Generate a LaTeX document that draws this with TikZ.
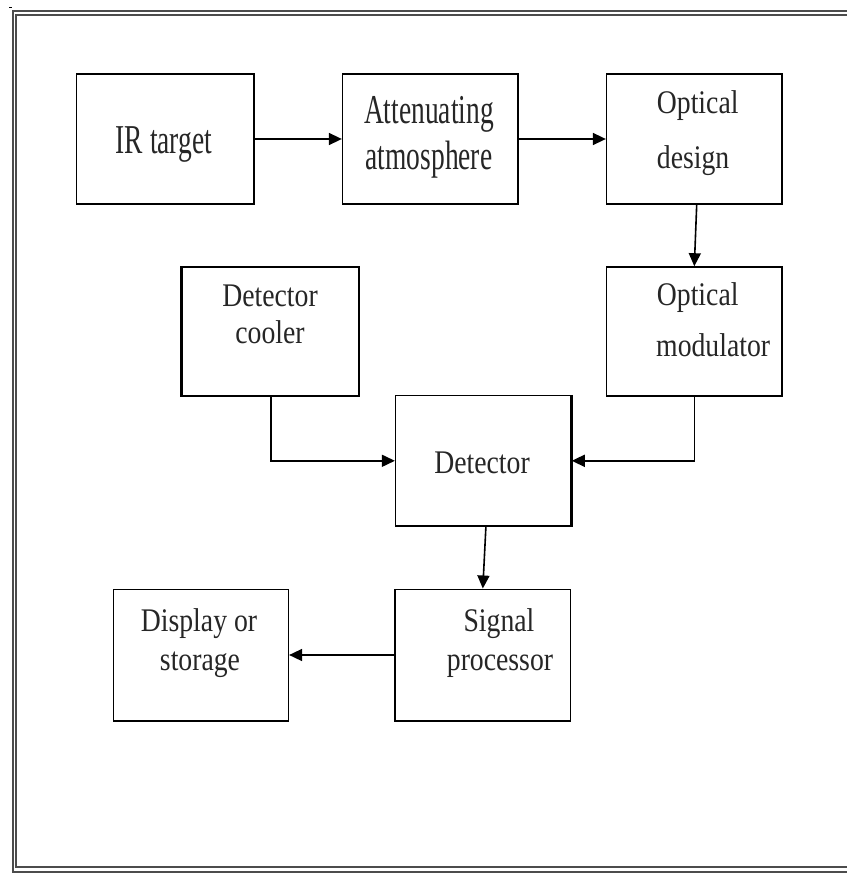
\documentclass[tikz,border=0pt]{standalone}
\usepackage{fontspec}
\setmainfont{Liberation Serif}
\newfontfamily\tallfont[FakeStretch=0.67]{Liberation Serif}
\newfontfamily\normfont[FakeStretch=0.84]{Liberation Serif}
\usetikzlibrary{arrows.meta}
\begin{document}
\begin{tikzpicture}[x=1pt,y=-1pt,
  box/.style={draw=black,line width=1.6pt,rectangle,inner sep=0pt},
  tallt/.style={anchor=base,inner sep=0pt,text=black!85,font=\tallfont\fontsize{41}{41}\selectfont},
  normt/.style={anchor=base,inner sep=0pt,text=black!85,font=\normfont\fontsize{33}{33}\selectfont},
  normtl/.style={anchor=base west,inner sep=0pt,text=black!85,font=\normfont\fontsize{33}{33}\selectfont},
  conn/.style={line width=1.6pt,-{Triangle[length=13pt,width=12pt]}},
  frame/.style={draw=black!70,line width=1.6pt}]
\useasboundingbox (0,0) rectangle (846,874);
% outer double frame
\draw[frame] (850,11) -- (13,11) -- (13,872) -- (850,872);
\draw[frame] (850,15) -- (16,15) -- (16,867) -- (850,867);
\draw[line width=1.2pt] (9,7.5) -- (12,7.5);
% boxes
\node[box,minimum width=177.3pt,minimum height=130pt] (ir) at (165.3,139) {};
\node[box,minimum width=175.3pt,minimum height=130pt] (att) at (430.3,139) {};
\node[box,minimum width=175.3pt,minimum height=130pt] (od) at (694.3,139) {};
\node[box,minimum width=175.3pt,minimum height=129pt] (om) at (694.3,331.5) {};
\node[box,minimum width=176.3pt,minimum height=129pt] (cool) at (270.8,331.5) {};
\node[box,minimum width=175.3pt,minimum height=130.3pt] (det) at (483.3,460.8) {};
\node[box,minimum width=175pt,minimum height=131.4pt] (disp) at (200.8,655) {};
\node[box,minimum width=175.7pt,minimum height=131.4pt] (sig) at (482.8,655) {};
% heavier edges
\draw[line width=3pt] (cool.north west) -- (cool.south west);
\draw[line width=3pt] (det.north east) -- (det.south east);
% texts
\node[tallt] (irt) at (164,153.3) {IR target};
\node[tallt] (att1) at (429,123.3) {Attenuating};
\node[tallt] (att2) at (429,170) {atmosphere};
\node[normtl] (od1) at (656.7,113.3) {Optical};
\node[normtl] (od2) at (656.7,168.3) {design};
\node[normtl] (om1) at (656.7,305) {Optical};
\node[normtl] (om2) at (656,356.7) {modulator};
\node[normt] (co1) at (270,306.7) {Detector};
\node[normt] (co2) at (270,343.3) {cooler};
\node[normt] (det1) at (482,473.3) {Detector};
\node[normt] (sig1) at (499,631.7) {Signal};
\node[normt] (sig2) at (500,670) {processor};
\node[normt] (dis1) at (199,631.7) {Display or};
\node[normt] (dis2) at (200,670) {storage};
% connectors
\draw[conn] (ir.east) -- (att.west);
\draw[conn] (att.east) -- (od.west);
\draw[conn] ([xshift=2.4pt]od.south) -- (om.north);
\draw[conn] (cool.south) |- (det.west);
\draw[conn] (om.south) |- (det.east);
\draw[conn] ([xshift=2.6pt]det.south) -- (sig.north);
\draw[conn] (sig.west) -- (disp.east);
\end{tikzpicture}
\end{document}
